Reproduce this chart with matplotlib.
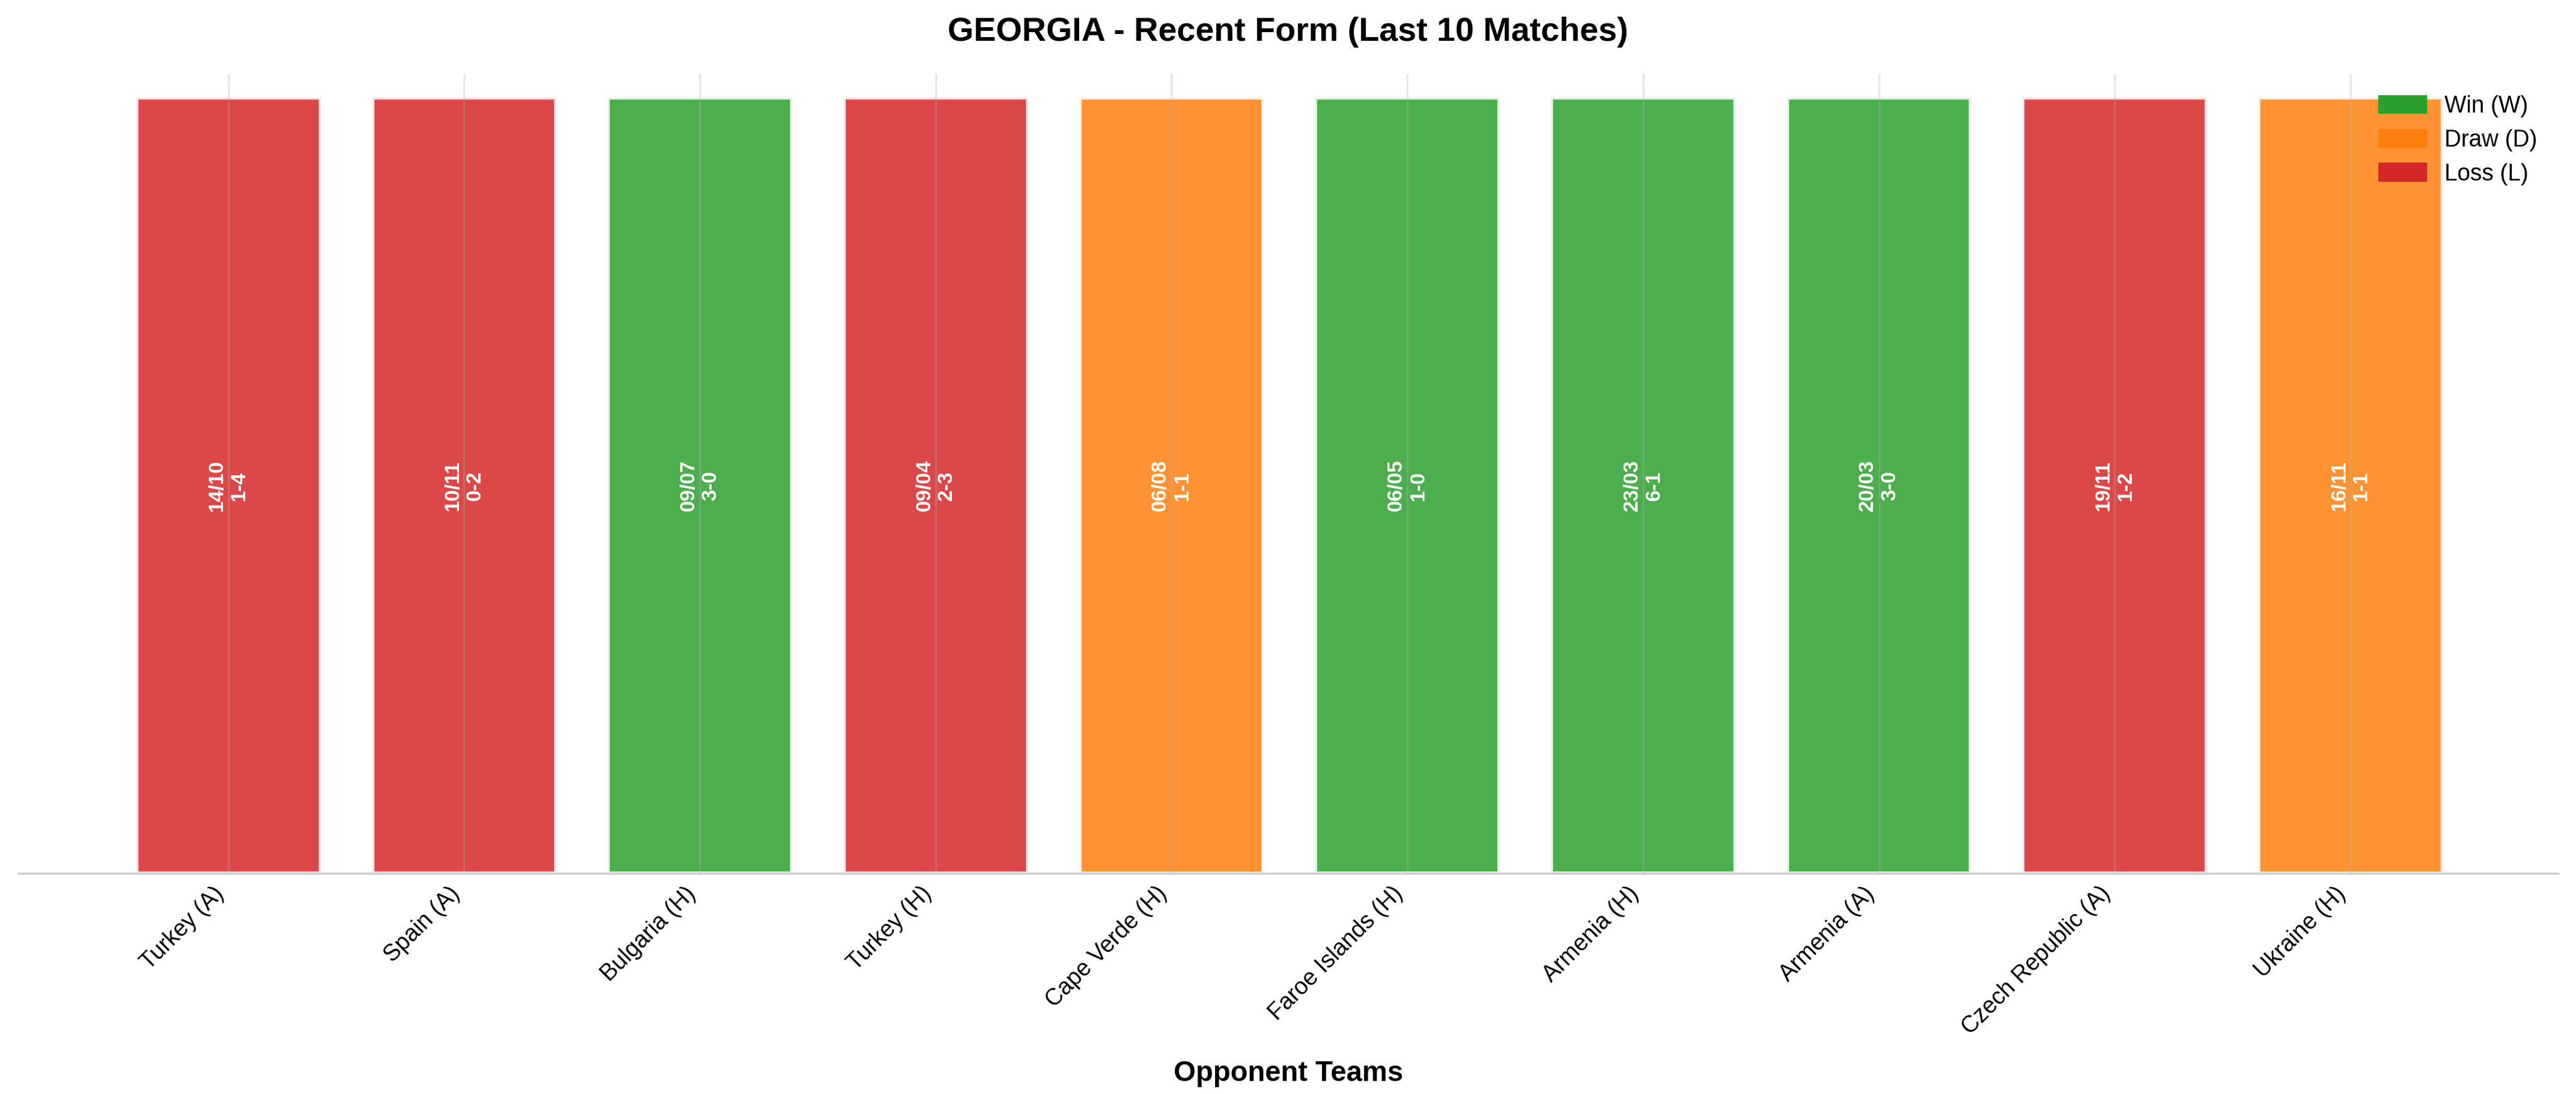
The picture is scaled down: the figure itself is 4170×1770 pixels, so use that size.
import matplotlib
matplotlib.use("Agg")
import matplotlib.pyplot as plt
from matplotlib.patches import Patch

opponents = ["Turkey (A)", "Spain (A)", "Bulgaria (H)", "Turkey (H)", "Cape Verde (H)",
             "Faroe Islands (H)", "Armenia (H)", "Armenia (A)", "Czech Republic (A)", "Ukraine (H)"]
dates = ["14/10", "10/11", "09/07", "09/04", "06/08", "06/05", "23/03", "20/03", "19/11", "16/11"]
scores = ["1-4", "0-2", "3-0", "2-3", "1-1", "1-0", "6-1", "3-0", "1-2", "1-1"]
results = ["L", "L", "W", "L", "D", "W", "W", "W", "L", "D"]
colors = {"W": "#2ca02c", "D": "#ff7f0e", "L": "#d62728"}

plt.rcParams['font.family'] = ['Liberation Sans', 'DejaVu Sans']
fig = plt.figure(figsize=(13.9, 5.9), dpi=300)
ax = fig.add_axes([0.0072, 0.2017, 0.9858, 0.7303])
x = list(range(len(opponents)))
ax.grid(axis='x', color='#b0b0b0', alpha=0.3, linewidth=0.8)
ax.set_axisbelow(False)
ax.bar(x, [1]*len(x), width=0.78, color=[colors[r] for r in results], alpha=0.85,
       edgecolor='white', linewidth=1.5, zorder=1)
for i in x:
    ax.text(i, 0.5, f"{dates[i]}\n{scores[i]}", rotation=90, ha='center', va='center',
            color='white', fontsize=8, fontweight='bold', zorder=3)
ax.set_xlim(-0.89, 9.88)
ax.set_ylim(0, 1.03)
ax.set_yticks([])
ax.set_xticks(x)
ax.set_xticklabels(opponents, rotation=45, ha='right', fontsize=9)
ax.tick_params(axis='x', length=0)
for s in ['top', 'right', 'left']:
    ax.spines[s].set_visible(False)
ax.spines['bottom'].set_color('#cccccc')
ax.set_xlabel("Opponent Teams", fontsize=11, fontweight='bold', labelpad=8)
fig.suptitle("GEORGIA - Recent Form (Last 10 Matches)", fontsize=13, fontweight='bold', y=0.985)
handles = [Patch(color=colors["W"], label="Win (W)"), Patch(color=colors["D"], label="Draw (D)"),
           Patch(color=colors["L"], label="Loss (L)")]
ax.legend(handles=handles, loc='upper right', frameon=False, fontsize=9)
fig.savefig("out.png", dpi=300)
